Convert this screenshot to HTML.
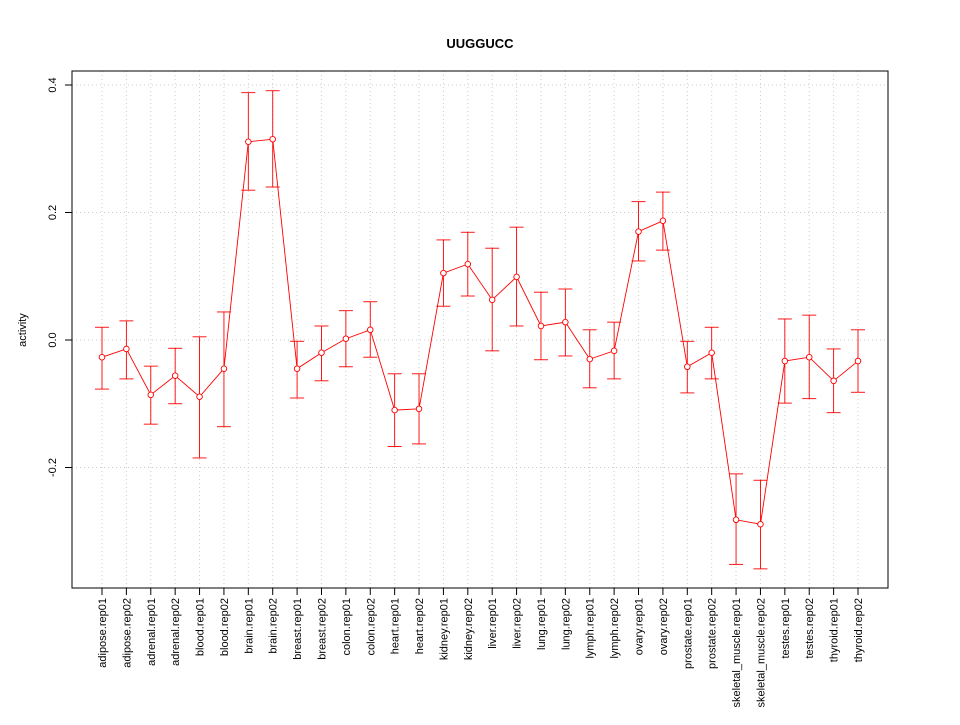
<!DOCTYPE html>
<html><head><meta charset="utf-8"><style>
body{margin:0;background:#fff;}
svg text{font-family:"Liberation Sans",sans-serif;}
</style></head><body>
<svg id="chart" width="960" height="720" xmlns="http://www.w3.org/2000/svg">
<rect width="960" height="720" fill="#fff"/>
<text x="480" y="48" text-anchor="middle" font-size="13" font-weight="bold">UUGGUCC</text>
<g id="grid"></g>
<g id="marks"></g>
<rect x="72" y="71" width="816" height="517" fill="none" stroke="#000" shape-rendering="crispEdges"/>
<g id="axes"></g>
<text x="0" y="0" transform="translate(26,330) rotate(-90)" text-anchor="middle" font-size="11">activity</text>
</svg>
<script>
const categories=["adipose.rep01","adipose.rep02","adrenal.rep01","adrenal.rep02","blood.rep01","blood.rep02","brain.rep01","brain.rep02","breast.rep01","breast.rep02","colon.rep01","colon.rep02","heart.rep01","heart.rep02","kidney.rep01","kidney.rep02","liver.rep01","liver.rep02","lung.rep01","lung.rep02","lymph.rep01","lymph.rep02","ovary.rep01","ovary.rep02","prostate.rep01","prostate.rep02","skeletal_muscle.rep01","skeletal_muscle.rep02","testes.rep01","testes.rep02","thyroid.rep01","thyroid.rep02"];
const values=[-0.027,-0.014,-0.086,-0.056,-0.089,-0.045,0.311,0.315,-0.045,-0.020,0.002,0.016,-0.110,-0.108,0.105,0.119,0.063,0.099,0.022,0.028,-0.030,-0.017,0.170,0.187,-0.042,-0.020,-0.282,-0.289,-0.033,-0.027,-0.064,-0.033];
const upper=[0.020,0.030,-0.041,-0.013,0.005,0.044,0.388,0.391,-0.002,0.022,0.046,0.060,-0.053,-0.053,0.157,0.169,0.144,0.177,0.075,0.080,0.016,0.028,0.217,0.232,-0.002,0.020,-0.210,-0.220,0.033,0.039,-0.014,0.016];
const lower=[-0.077,-0.061,-0.132,-0.100,-0.185,-0.136,0.235,0.240,-0.091,-0.064,-0.042,-0.027,-0.167,-0.163,0.053,0.069,-0.017,0.022,-0.031,-0.025,-0.075,-0.061,0.124,0.141,-0.083,-0.061,-0.352,-0.359,-0.099,-0.092,-0.114,-0.082];
const yTicks=[-0.2,0.0,0.2,0.4];
const yTickLabels=["-0.2","0.0","0.2","0.4"];
const NS="http://www.w3.org/2000/svg";
const x=i=>102+i*(858-102)/(categories.length-1);
const y=v=>340-v*637.5;
function mk(tag,attrs,parent){const e=document.createElementNS(NS,tag);for(const k in attrs)e.setAttribute(k,attrs[k]);parent.appendChild(e);return e;}
const grid=document.getElementById('grid'),marks=document.getElementById('marks'),axes=document.getElementById('axes');
categories.forEach((c,i)=>{mk('line',{x1:x(i),x2:x(i),y1:71,y2:588,stroke:'#ccc','stroke-dasharray':'1,3'},grid);});
yTicks.forEach((t,i)=>{
 mk('line',{x1:72,x2:888,y1:y(t),y2:y(t),stroke:'#ccc','stroke-dasharray':'1,3'},grid);
 const tk=mk('line',{x1:65,x2:72,y1:y(t),y2:y(t),stroke:'#000'},axes);
 
 
 const tl=mk('text',{x:0,y:0,transform:`translate(56,${y(t)}) rotate(-90)`,'text-anchor':'middle','font-size':11},axes);
 tl.textContent=yTickLabels[i];
 
 
});
categories.forEach((c,i)=>{
 mk('line',{x1:x(i),x2:x(i),y1:588,y2:595,stroke:'#000'},axes);
 const tl=mk('text',{x:0,y:0,transform:`translate(${x(i)+4},598) rotate(-90)`,'text-anchor':'end','font-size':11},axes);
 tl.textContent=c;
 
 
});
const pts=values.map((v,i)=>x(i)+','+y(v)).join(' ');
const pl=mk('polyline',{points:pts,fill:'none',stroke:'#f00','stroke-width':0.9},marks);


values.forEach((v,i)=>{
 const g=mk('g',{},marks);
 
 
 mk('line',{x1:x(i),x2:x(i),y1:y(upper[i]),y2:y(lower[i]),stroke:'#f00','stroke-width':0.9},g);
 mk('line',{x1:x(i)-7,x2:x(i)+7,y1:y(upper[i]),y2:y(upper[i]),stroke:'#f00','stroke-width':0.9},g);
 mk('line',{x1:x(i)-7,x2:x(i)+7,y1:y(lower[i]),y2:y(lower[i]),stroke:'#f00','stroke-width':0.9},g);
 const p=mk('circle',{cx:x(i),cy:y(v),r:2.8,fill:'#fff',stroke:'#f00','stroke-width':0.9},marks);
 
 
});
</script>
</body></html>
